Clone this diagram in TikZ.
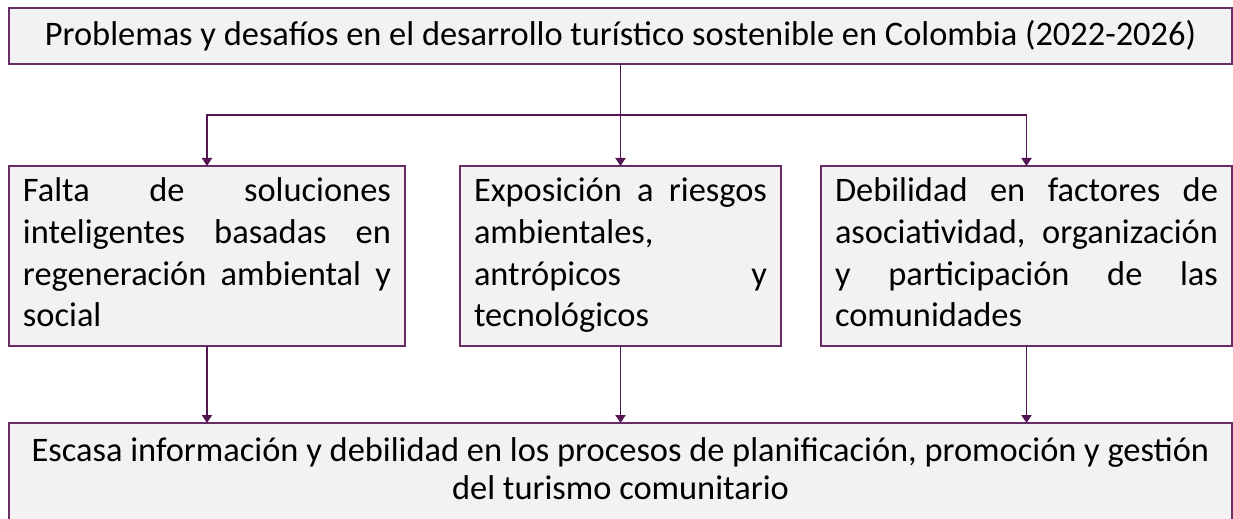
\documentclass[tikz,border=0pt]{standalone}
\usepackage{fontspec}
\setmainfont{Carlito}
\usetikzlibrary{arrows.meta}
\definecolor{lila}{RGB}{104,44,102}
\definecolor{lilaoscuro}{RGB}{84,22,82}
\definecolor{gris}{RGB}{242,242,242}
\hyphenpenalty=10000
\exhyphenpenalty=10000
\hbadness=10000

\begin{document}
\begin{tikzpicture}[x=0.5pt,y=-0.5pt,>={Triangle[length=4pt,width=5pt]},
    caja/.style={draw=lila, line width=0.9pt, fill=gris, inner xsep=7pt, inner ysep=0pt,
        outer sep=0pt, anchor=north west, font=\fontsize{17.2}{20.8}\selectfont},
    flecha/.style={->, draw=lilaoscuro, line width=0.9pt}]
\useasboundingbox (0,0) rectangle (1233,519);
\clip (0,0) rectangle (1233,519);

\node[caja, minimum width=611.5pt, minimum height=28pt] (titulo) at (9,8)
    {Problemas y desafíos en el desarrollo turístico sostenible en Colombia (2022-2026)};

\node[caja, text width=184pt, minimum height=90pt, align=justify] (izq) at (9,166)
    {\strut Falta de soluciones\linebreak inteligentes basadas en\linebreak regeneración ambiental y\linebreak social\strut};
\node[caja, text width=146.5pt, minimum height=90pt, align=justify] (medio) at (460,166)
    {\strut Exposición a riesgos\linebreak ambientales,\linebreak antrópicos y\linebreak tecnológicos\strut};
\node[caja, text width=191.5pt, minimum height=90pt, align=justify] (der) at (821,166)
    {\strut Debilidad en factores de\linebreak asociatividad, organización\linebreak y participación de las\linebreak comunidades\strut};

\node[caja, minimum width=611.5pt, minimum height=50pt, align=center,
    font=\fontsize{17.2}{19}\selectfont] (final) at (9,423)
    {\strut Escasa información y debilidad en los procesos de planificación, promoción y gestión\\
    del turismo comunitario\strut};

\path (titulo.south) ++(0,51) coordinate (rama);
\draw[flecha] (titulo.south) -- (medio.north);
\draw[flecha] (rama) -| (izq.north);
\draw[flecha] (rama) -| (der.north);
\foreach \n in {izq,medio,der}
    \draw[flecha] (\n.south) -- (\n.south |- final.north);

\end{tikzpicture}
\end{document}
